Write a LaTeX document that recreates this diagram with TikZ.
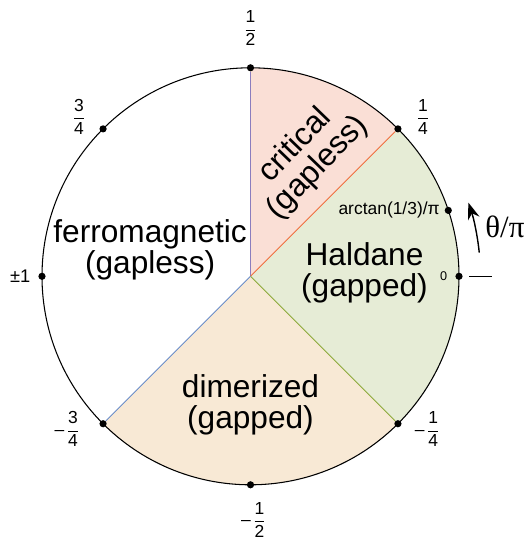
\documentclass[tikz,border=0pt]{standalone}
\usepackage{fontspec}
\setmainfont{Liberation Sans}
\newfontfamily\thetafont{Liberation Serif}
\usetikzlibrary{arrows.meta}

\definecolor{critfill}{HTML}{FADFD6}
\definecolor{haldfill}{HTML}{E6ECD6}
\definecolor{dimfill}{HTML}{F8E9D5}
\definecolor{purpleline}{HTML}{8B7DBE}
\definecolor{orangeline}{HTML}{F06D3E}
\definecolor{greenline}{HTML}{8DAA3B}
\definecolor{blueline}{HTML}{6A8CC8}

\newcommand{\frc}[2]{$\displaystyle\frac{\mbox{#1}}{\mbox{#2}}$}
\newcommand{\nfrc}[2]{--\hspace{1.5pt}\frc{#1}{#2}}

\begin{document}
\begin{tikzpicture}[
  phase/.style={font=\fontsize{22.5}{22.3}\selectfont, align=center, inner sep=0pt},
  fraclabel/.style={font=\fontsize{12.4}{14}\selectfont, inner sep=0pt},
  dot/.style={circle, fill=black, inner sep=0pt, minimum size=0.18cm}
]
\def\rad{5.2125}
\useasboundingbox (-6.2625,-6.7175) rectangle (6.8375,6.9075);

% coloured phases
\fill[critfill] (0,0) -- (90:\rad) arc[start angle=90, end angle=45, radius=\rad] -- cycle;
\fill[haldfill] (0,0) -- (45:\rad) arc[start angle=45, end angle=-45, radius=\rad] -- cycle;
\fill[dimfill] (0,0) -- (-45:\rad) arc[start angle=-45, end angle=-135, radius=\rad] -- cycle;
\draw[line width=0.75pt] (0,0) circle[radius=\rad];

\coordinate (ctr) at (0,0);
\node[dot] (half) at (90:\rad) {};
\node[dot] (quarter) at (45:\rad) {};
\node[dot] (arct) at (18.43:\rad) {};
\node[dot] (zero) at (0:\rad) {};
\node[dot] (mquarter) at (-45:\rad) {};
\node[dot] (mhalf) at (-90:\rad) {};
\node[dot] (mthreeq) at (-135:\rad) {};
\node[dot] (one) at (180:\rad) {};
\node[dot] (threeq) at (135:\rad) {};

% phase boundaries
\draw[purpleline, line width=0.7pt] (ctr) -- (half);
\draw[orangeline, line width=0.7pt] (ctr) -- (quarter);
\draw[greenline, line width=0.7pt] (ctr) -- (mquarter);
\draw[blueline, line width=0.7pt] (ctr) -- (mthreeq);

\node[fraclabel] (lhalf) at (0,6.195) {\frc{1}{2}};
\node[fraclabel] (lquarter) at (4.3125,3.99) {\frc{1}{4}};
\node[fraclabel] (lthreeq) at (-4.2875,3.99) {\frc{3}{4}};
\node[fraclabel] (lmthreeq) at (-4.5875,-3.82) {\nfrc{3}{4}};
\node[fraclabel] (lmquarter) at (4.42,-3.82) {\nfrc{1}{4}};
\node[fraclabel] (lmhalf) at (0.0775,-6.0925) {\nfrc{1}{2}};
\node[font=\fontsize{13}{15}\selectfont, inner sep=0pt] (lone) at (-5.76,0) {±1};
\node[font=\fontsize{9}{11}\selectfont, inner sep=0pt] (lzero) at (4.83,0) {0};
\node[font=\fontsize{12.4}{14}\selectfont, inner sep=0pt, anchor=east] (larct) at (4.7375,1.67) {arctan(1/3)/π};

% direction of theta
\coordinate (arrtail) at (5.9:5.75);
\draw[-{Stealth[length=4.2mm, width=3mm]}, line width=1pt] (arrtail) arc[start angle=5.9, end angle=18.7, radius=5.75];
\coordinate (tickin) at (0:5.47);
\coordinate (tickout) at (0:6.03);
\draw[line width=1.1pt] (tickin) -- (tickout);
\node[font=\thetafont\fontsize{22}{24}\selectfont, inner sep=0pt] (ltheta) at (6.36,1.245) {θ/π};

\node[phase] (ferro) at (-2.51,0.655) {ferromagnetic\\(gapless)};
\node[phase] (haldane) at (2.85,0.09) {Haldane\\(gapped)};
\node[phase] (dimer) at (0,-3.22) {dimerized\\(gapped)};
\node[phase, rotate=46] (crit) at (1.405,2.99) {critical\\(gapless)};
\end{tikzpicture}
\end{document}
